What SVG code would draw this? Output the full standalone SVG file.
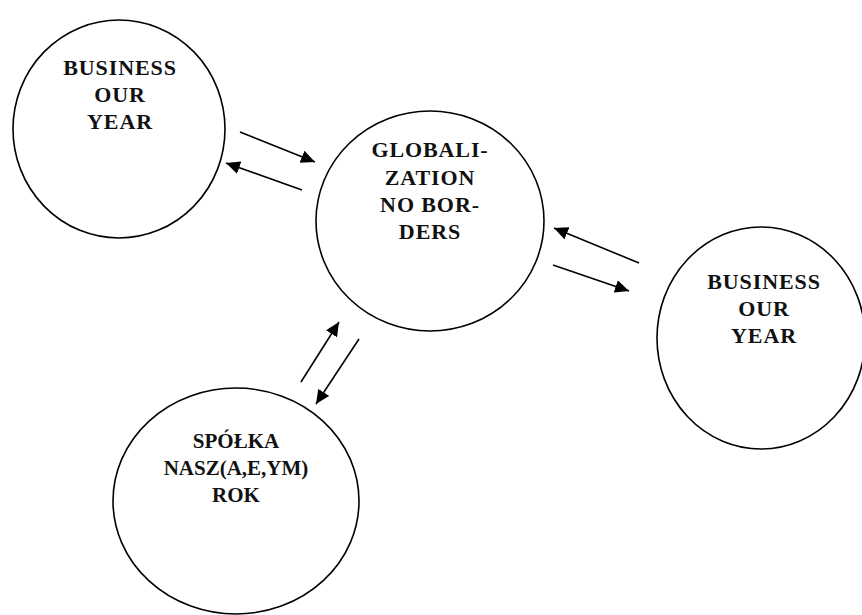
<svg xmlns="http://www.w3.org/2000/svg" width="862" height="615" viewBox="0 0 862 615">
<style>
.node{fill:#fff;stroke:#000;stroke-width:1.6}
.t{font-family:"Liberation Serif","DejaVu Serif",serif;font-weight:bold;font-size:22px;letter-spacing:0.9px;text-anchor:middle;fill:#111}
.t2{font-family:"Liberation Serif","DejaVu Serif",serif;font-weight:bold;font-size:21px;text-anchor:middle;fill:#111}
.c{stroke:#000;stroke-width:1.6;fill:none;marker-end:url(#ah)}
</style>
<defs>
<marker id="ah" markerUnits="userSpaceOnUse" markerWidth="15" markerHeight="13" refX="14" refY="6.5" orient="auto">
<path d="M0,0 L14,6.5 L0,13 z" fill="#000"/>
</marker>
</defs>
<rect width="862" height="615" fill="#fff"/>
<g id="n-business-left">
<ellipse class="node" cx="119" cy="129" rx="106" ry="109"/>
<text class="t" x="120" y="75">BUSINESS</text>
<text class="t" x="120" y="102">OUR</text>
<text class="t" x="120" y="129">YEAR</text>
</g>
<g id="n-globalization">
<ellipse class="node" cx="430" cy="221" rx="114" ry="110"/>
<text class="t" x="430" y="157">GLOBALI-</text>
<text class="t" x="430" y="185">ZATION</text>
<text class="t" x="430" y="212">NO BOR-</text>
<text class="t" x="430" y="239">DERS</text>
</g>
<g id="n-business-right">
<ellipse class="node" cx="761" cy="338" rx="104" ry="111"/>
<text class="t" x="764" y="289">BUSINESS</text>
<text class="t" x="764" y="316">OUR</text>
<text class="t" x="764" y="343">YEAR</text>
</g>
<g id="n-spolka">
<ellipse class="node" cx="236" cy="501" rx="123" ry="113"/>
<text class="t2" x="236" y="448">SPÓŁKA</text>
<text class="t2" x="236" y="475">NASZ(A,E,YM)</text>
<text class="t2" x="236" y="502">ROK</text>
</g>
<g id="connectors">
<line class="c" x1="240" y1="132" x2="315" y2="162"/>
<line class="c" x1="302" y1="190" x2="226" y2="163"/>
<line class="c" x1="639" y1="263" x2="554" y2="228"/>
<line class="c" x1="553" y1="265" x2="629" y2="291"/>
<line class="c" x1="301" y1="382" x2="339" y2="322"/>
<line class="c" x1="359" y1="339" x2="316" y2="404"/>
</g>
</svg>
